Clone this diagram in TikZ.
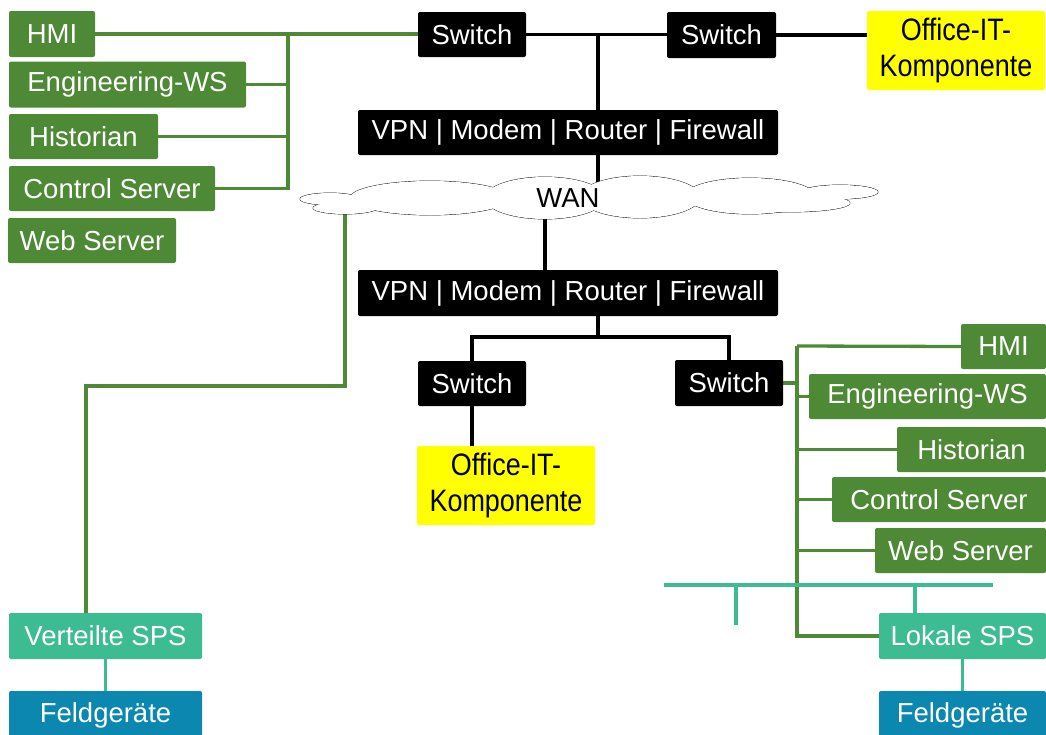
\documentclass[tikz,border=0pt]{standalone}
\usepackage{fontspec}
\setmainfont{Liberation Sans}
\newfontfamily\narrowfont[FakeStretch=0.87]{Liberation Sans}
\usetikzlibrary{backgrounds}
\definecolor{dgreen}{HTML}{4E8A35}
\definecolor{teal2}{HTML}{3DBB91}
\definecolor{fblue}{HTML}{0B87B0}
\definecolor{yel}{HTML}{FFFF00}
\begin{document}
\begin{tikzpicture}[x=1pt,y=-1pt,
  box/.style={rectangle, rounded corners=2pt, inner sep=0pt, text=white,
    font=\fontsize{27.5}{32}\selectfont, anchor=center},
  gbox/.style={box, fill=dgreen},
  kbox/.style={box, fill=black},
  tbox/.style={box, fill=teal2},
  bbox/.style={box, fill=fblue},
  obox/.style={rectangle, rounded corners=2pt, inner sep=0pt, fill=yel, text=black,
    align=center, font=\narrowfont\fontsize{31}{36}\selectfont, minimum width=178, minimum height=79},
  gline/.style={draw=dgreen, line width=3.3pt},
  kline/.style={draw=black, line width=3.3pt},
  tline/.style={draw=teal2, line width=3.3pt},
  puff/.style={line width=0.8pt}]
\useasboundingbox (0,0) rectangle (1046,734);
% left cluster
\node[gbox, minimum width=86, minimum height=46] (hmiL) at (52,34) {HMI};
\node[gbox, minimum width=237, minimum height=46] (engL) at (127.5,84.5) {Engineering-WS};
\node[gbox, minimum width=149, minimum height=45] (hisL) at (83.5,136.5) {Historian};
\node[gbox, minimum width=206, minimum height=45] (conL) at (112,188.5) {Control Server};
\node[gbox, minimum width=168, minimum height=45] (webL) at (92,240.5) {Web Server};
% top network
\node[kbox, minimum width=108, minimum height=45] (sw1) at (472,34.5) {Switch};
\node[kbox, minimum width=109, minimum height=46] (sw2) at (721.5,35) {Switch};
\node[obox] (offT) at (956,50.5) {Office-IT-\\Komponente};
\node[kbox, minimum width=420, minimum height=45] (vpn1) at (568,132.5) {VPN | Modem | Router | Firewall};
% WAN cloud (union of ellipses)
\foreach \cx/\cy/\rx/\ry in {330/199/30/6, 345/208/32/6, 430/198/80/17, 545/198/60/21,
  640/197/60/21, 750/196/65/18, 840/192/38/7, 790/203/60/9}
  \draw[puff] (\cx,\cy) ellipse [x radius=\rx, y radius=\ry];
\foreach \cx/\cy/\rx/\ry in {330/199/30/6, 345/208/32/6, 430/198/80/17, 545/198/60/21,
  640/197/60/21, 750/196/65/18, 840/192/38/7, 790/203/60/9}
  \fill[white] (\cx,\cy) ellipse [x radius=\rx, y radius=\ry];
\node[font=\fontsize{27.5}{32}\selectfont, inner sep=0pt] (wan) at (568,198) {WAN};
\node[kbox, minimum width=420, minimum height=46] (vpn2) at (568,293) {VPN | Modem | Router | Firewall};
\node[kbox, minimum width=108, minimum height=45] (sw3) at (472,383.5) {Switch};
\node[kbox, minimum width=108, minimum height=46] (sw4) at (729,383) {Switch};
\node[obox] (offB) at (506,485.5) {Office-IT-\\Komponente};
% bottom left
\node[tbox, minimum width=193, minimum height=46] (vsps) at (105.5,636) {Verteilte SPS};
\node[bbox, minimum width=193, minimum height=49] (feldL) at (105.5,715.5) {Feldgeräte};
% right cluster
\node[gbox, minimum width=85, minimum height=45] (hmiR) at (1003.5,346.5) {HMI};
\node[gbox, minimum width=237, minimum height=45] (engR) at (927.5,396.5) {Engineering-WS};
\node[gbox, minimum width=149, minimum height=45] (hisR) at (971.5,449.5) {Historian};
\node[gbox, minimum width=214, minimum height=45] (conR) at (939,499.5) {Control Server};
\node[gbox, minimum width=171, minimum height=45] (webR) at (960.5,550.5) {Web Server};
\node[tbox, minimum width=167, minimum height=46] (lsps) at (962.5,636) {Lokale SPS};
\node[bbox, minimum width=167, minimum height=49] (feldR) at (962.5,715.5) {Feldgeräte};
% coordinates
\coordinate (bL) at (288,34);
\coordinate (j1) at (598,35);
\coordinate (cTop) at (598,190);
\coordinate (cBot) at (545,205);
\coordinate (j2) at (598,337);
\coordinate (cG) at (345,205);
\coordinate (k) at (345,386);
\coordinate (k2) at (86,386);
\coordinate (bR) at (797,346);
\coordinate (tL) at (664,585);
\coordinate (tR) at (993,585);
\coordinate (tD) at (736,625);
\coordinate (tX) at (915,585);
\begin{scope}[on background layer]
% left bus
\draw[gline] (hmiL.east) -- (hmiL.east -| sw1.west);
\draw[gline] (conL.east) -| (bL);
\draw[gline] (engL.east) -- (engL.east -| bL);
\draw[gline] (hisL.east) -- (hisL.east -| bL);
% top black
\draw[kline] (sw1.east) -- (sw1.east -| sw2.west);
\draw[kline] (sw2.east) -- (sw2.east -| offT.west);
\draw[kline] (j1) -- (j1 |- vpn1.north);
\draw[kline] (vpn1.south -| cTop) -- (cTop);
\draw[kline] (cBot) -- (cBot |- vpn2.north);
\draw[kline] (vpn2.south -| j2) -- (j2);
\draw[kline] (sw3.north) |- (j2) -| (sw4.north);
\draw[kline] (sw3.south) -- (sw3.south |- offB.north);
% green from WAN to distributed PLC
\draw[gline] (cG) -- (k) -- (k2) -- (k2 |- vsps.north);
\draw[tline] (vsps.south) -- (feldL.north);
% right bus
\draw[gline] (lsps.west) -| (bR);
\draw[gline] (hmiR.west) -- (bR);
\draw[gline] (sw4.east) -- (sw4.east -| bR);
\draw[gline] (engR.west) -- (engR.west -| bR);
\draw[gline] (hisR.west) -- (hisR.west -| bR);
\draw[gline] (conR.west) -- (conR.west -| bR);
\draw[gline] (webR.west) -- (webR.west -| bR);
% teal field bus
\draw[tline] (tL) -- (tR);
\draw[tline] (tD |- tL) -- (tD);
\draw[tline] (tX) -- (tX |- lsps.north);
\draw[tline] (lsps.south) -- (feldR.north);
\end{scope}
\end{tikzpicture}
\end{document}
